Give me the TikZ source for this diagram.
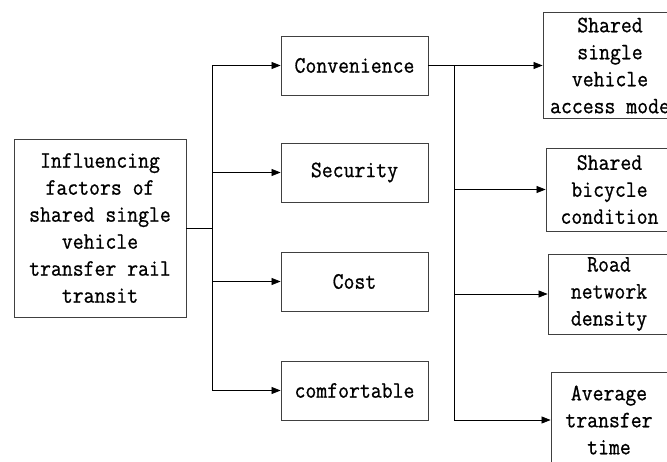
\documentclass[tikz,border=0pt]{standalone}
\usepackage{fontspec}
\usepackage{tikz}
\usetikzlibrary{arrows.meta}

\newfontfamily\boxfont{Latin Modern Mono}[FakeStretch=0.9,FakeBold=0.8]

\begin{document}
\begin{tikzpicture}
  [x=1pt,y=-1pt,
   every node/.style={rectangle,draw=black!75,line width=0.8pt,align=center,
     text=black,inner sep=2pt,font=\boxfont\fontsize{23.5}{27}\selectfont},
   arr/.style={-{Triangle[length=9pt,width=7pt]},line width=0.7pt}]
  \useasboundingbox (0,0) rectangle (667,461);

  \node[minimum width=172pt,minimum height=178pt] (main) at (100,228)
    {Influencing\\factors of\\shared single\\vehicle\\transfer rail\\transit};

  \node[minimum width=147pt,minimum height=59pt] (conv) at (354.5,65.5) {Convenience};
  \node[minimum width=147pt,minimum height=59pt] (sec)  at (354.5,172.5) {Security};
  \node[minimum width=147pt,minimum height=59pt] (cost) at (354.5,281.5) {Cost};
  \node[minimum width=147pt,minimum height=59pt] (comf) at (354.5,390.5) {comfortable};

  \node[minimum width=134pt,minimum height=106pt] (mode) at (610,65.5)
    {Shared\\single\\vehicle\\access mode};
  \node[minimum width=127pt,minimum height=83pt] (bike) at (609.5,189.5)
    {Shared\\bicycle\\condition};
  \node[minimum width=122pt,minimum height=80pt] (road) at (609,294)
    {Road\\network\\density};
  \node[minimum width=116pt,minimum height=96pt] (avg) at (609,420)
    {Average\\transfer\\time};

  \coordinate (j1) at (212,228);
  \coordinate (j2) at (454,65.5);

  \draw[line width=0.7pt] (main.east) -- (j1);
  \draw[line width=0.7pt] (j1 |- conv.west) -- (j1 |- comf.west);
  \foreach \to in {conv,sec,cost,comf}
    \draw[arr] (j1 |- \to.west) -- (\to.west);

  \draw[line width=1.1pt] (conv.east) -- (j2);
  \draw[line width=0.7pt] (j2 |- mode.west) -- (j2 |- avg.west);
  \foreach \to in {mode,bike,road,avg}
    \draw[arr] (j2 |- \to.west) -- (\to.west);

\end{tikzpicture}
\end{document}
